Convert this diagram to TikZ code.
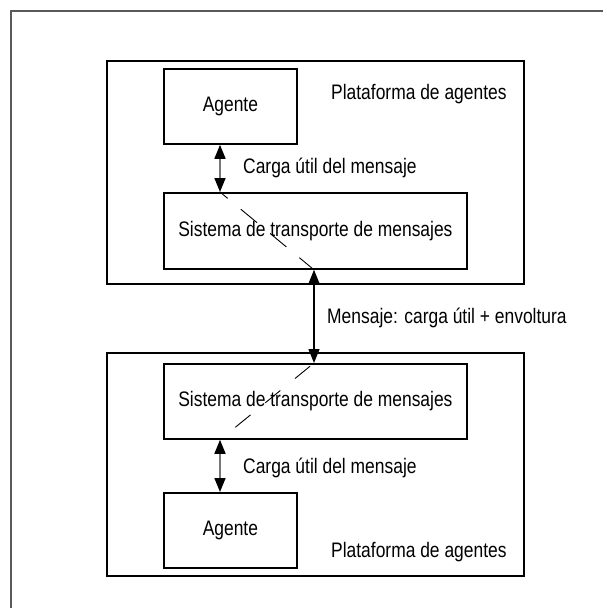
\documentclass[tikz,border=0pt]{standalone}
\usepackage{fontspec}
\setmainfont{Liberation Sans}[FakeStretch=0.83]
\usetikzlibrary{arrows.meta}
\definecolor{framegray}{RGB}{90,90,90}
\definecolor{shaftgray}{RGB}{120,120,120}
\begin{document}
\begin{tikzpicture}[x=1pt,y=-1pt,
  box/.style={draw, line width=1.8pt, inner sep=0pt, anchor=north west,
    font=\fontsize{21}{25}\selectfont},
  lbl/.style={inner sep=0pt, anchor=west, font=\fontsize{21}{25}\selectfont},
  link/.style={line width=1.6pt, shaftgray, {Triangle[length=14pt,width=11pt,color=black]}-{Triangle[length=14pt,width=11pt,color=black]}},
  wire/.style={line width=1.3pt, black, {Triangle[length=14pt,width=11pt]}-{Triangle[length=14pt,width=11pt]}},
  trace/.style={line width=0.9pt, black}
]
\useasboundingbox (0,0) rectangle (603,608);

% page frame
\draw[line width=2pt, framegray] (11,608) -- (11,11) -- (603,11);

% columns used by the vertical connectors
\coordinate (colA) at (220,0);
\coordinate (colB) at (314,0);

% upper agent platform
\node[box, minimum width=417pt, minimum height=223pt] (ptop) at (106,60) {};
\node[box, minimum width=133pt, minimum height=75pt] (atop) at (163,68) {Agente};
\node[box, minimum width=303pt, minimum height=76pt] (stop) at (163,192) {Sistema de transporte de mensajes};
\node[lbl] (ltop) at (331,94) {Plataforma de agentes};
\node[lbl] (ctop) at (243,168) {Carga útil del mensaje};

% lower agent platform
\node[box, minimum width=417pt, minimum height=223pt] (pbot) at (106,352) {};
\node[box, minimum width=303pt, minimum height=75pt] (sbot) at (163,363) {Sistema de transporte de mensajes};
\node[box, minimum width=133pt, minimum height=75pt] (abot) at (163,492) {Agente};
\node[lbl] (lbot) at (331,552) {Plataforma de agentes};
\node[lbl] (cbot) at (243,468) {Carga útil del mensaje};

% message between platforms
\node[lbl] (msg) at (327,318) {Mensaje: carga útil + envoltura};

% connectors
\draw[link] (atop.south -| colA) -- (stop.north -| colA);
\draw[link] (sbot.south -| colA) -- (abot.north -| colA);
\draw[wire] (stop.south -| colB) -- (sbot.north -| colB);

% message paths through the transport systems
\draw[trace, dash pattern=on 21pt off 17pt, dash phase=11pt]
  (stop.north -| colA) -- (stop.south -| colB);
\draw[trace, dash pattern=on 19.5pt off 19pt, dash phase=33.5pt]
  (sbot.north -| colB) -- (sbot.south -| colA);
\end{tikzpicture}
\end{document}
